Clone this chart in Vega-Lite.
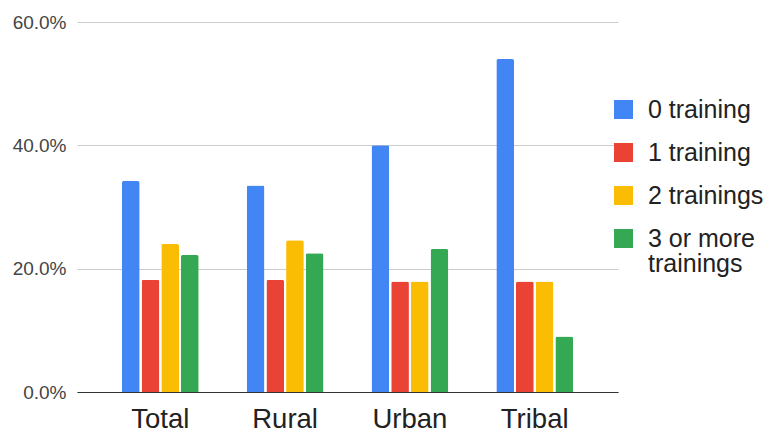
{
  "$schema": "https://vega.github.io/schema/vega-lite/v6.json",
  "width": 541,
  "height": 370,
  "autosize": {"type": "none"},
  "padding": {"left": 77, "top": 22, "right": 160, "bottom": 41},
  "background": "white",
  "config": {
    "font": "Liberation Sans",
    "view": {"stroke": null}
  },
  "data": {
    "values": [
      {"group": "Total", "series": "0 training", "value": 0.342},
      {"group": "Total", "series": "1 training", "value": 0.182},
      {"group": "Total", "series": "2 trainings", "value": 0.240},
      {"group": "Total", "series": "3 or more trainings", "value": 0.222},
      {"group": "Rural", "series": "0 training", "value": 0.335},
      {"group": "Rural", "series": "1 training", "value": 0.182},
      {"group": "Rural", "series": "2 trainings", "value": 0.246},
      {"group": "Rural", "series": "3 or more trainings", "value": 0.225},
      {"group": "Urban", "series": "0 training", "value": 0.400},
      {"group": "Urban", "series": "1 training", "value": 0.179},
      {"group": "Urban", "series": "2 trainings", "value": 0.179},
      {"group": "Urban", "series": "3 or more trainings", "value": 0.232},
      {"group": "Tribal", "series": "0 training", "value": 0.540},
      {"group": "Tribal", "series": "1 training", "value": 0.179},
      {"group": "Tribal", "series": "2 trainings", "value": 0.179},
      {"group": "Tribal", "series": "3 or more trainings", "value": 0.090}
    ]
  },
  "mark": {"type": "bar", "cornerRadiusTopLeft": 2, "cornerRadiusTopRight": 2},
  "encoding": {
    "x": {
      "field": "group",
      "type": "nominal",
      "sort": ["Total", "Rural", "Urban", "Tribal"],
      "scale": {"paddingInner": 0.385, "paddingOuter": 0.36},
      "axis": {
        "title": null,
        "labelAngle": 0,
        "labelFontSize": 27.5,
        "labelColor": "#222222",
        "labelPadding": 13,
        "ticks": false,
        "domainColor": "#333333",
        "domainWidth": 1.2
      }
    },
    "xOffset": {
      "field": "series",
      "type": "nominal",
      "sort": ["0 training", "1 training", "2 trainings", "3 or more trainings"],
      "scale": {"paddingInner": 0.1, "paddingOuter": 0}
    },
    "y": {
      "field": "value",
      "type": "quantitative",
      "scale": {"domain": [0, 0.6], "nice": false},
      "axis": {
        "title": null,
        "format": ".1%",
        "values": [0, 0.2, 0.4, 0.6],
        "labelFontSize": 19,
        "labelColor": "#444444",
        "labelPadding": 11,
        "ticks": false,
        "domain": false,
        "gridColor": "#cccccc",
        "gridWidth": 1
      }
    },
    "color": {
      "field": "series",
      "type": "nominal",
      "sort": ["0 training", "1 training", "2 trainings", "3 or more trainings"],
      "scale": {"range": ["#4285F4", "#EA4335", "#FBBC04", "#34A853"]},
      "legend": {
        "title": null,
        "orient": "none",
        "legendX": 534,
        "legendY": 75,
        "padding": 0,
        "symbolType": "square",
        "symbolSize": 361,
        "symbolStrokeWidth": 0,
        "symbolOpacity": 1,
        "labelFontSize": 25,
        "labelColor": "#222222",
        "labelOffset": 12,
        "rowPadding": 17,
        "labelLimit": 200,
        "labelExpr": "datum.label == '3 or more trainings' ? ['3 or more', 'trainings'] : datum.label",
        "encode": {"labels": {"update": {"lineHeight": {"value": 25}}}}
      }
    }
  }
}
